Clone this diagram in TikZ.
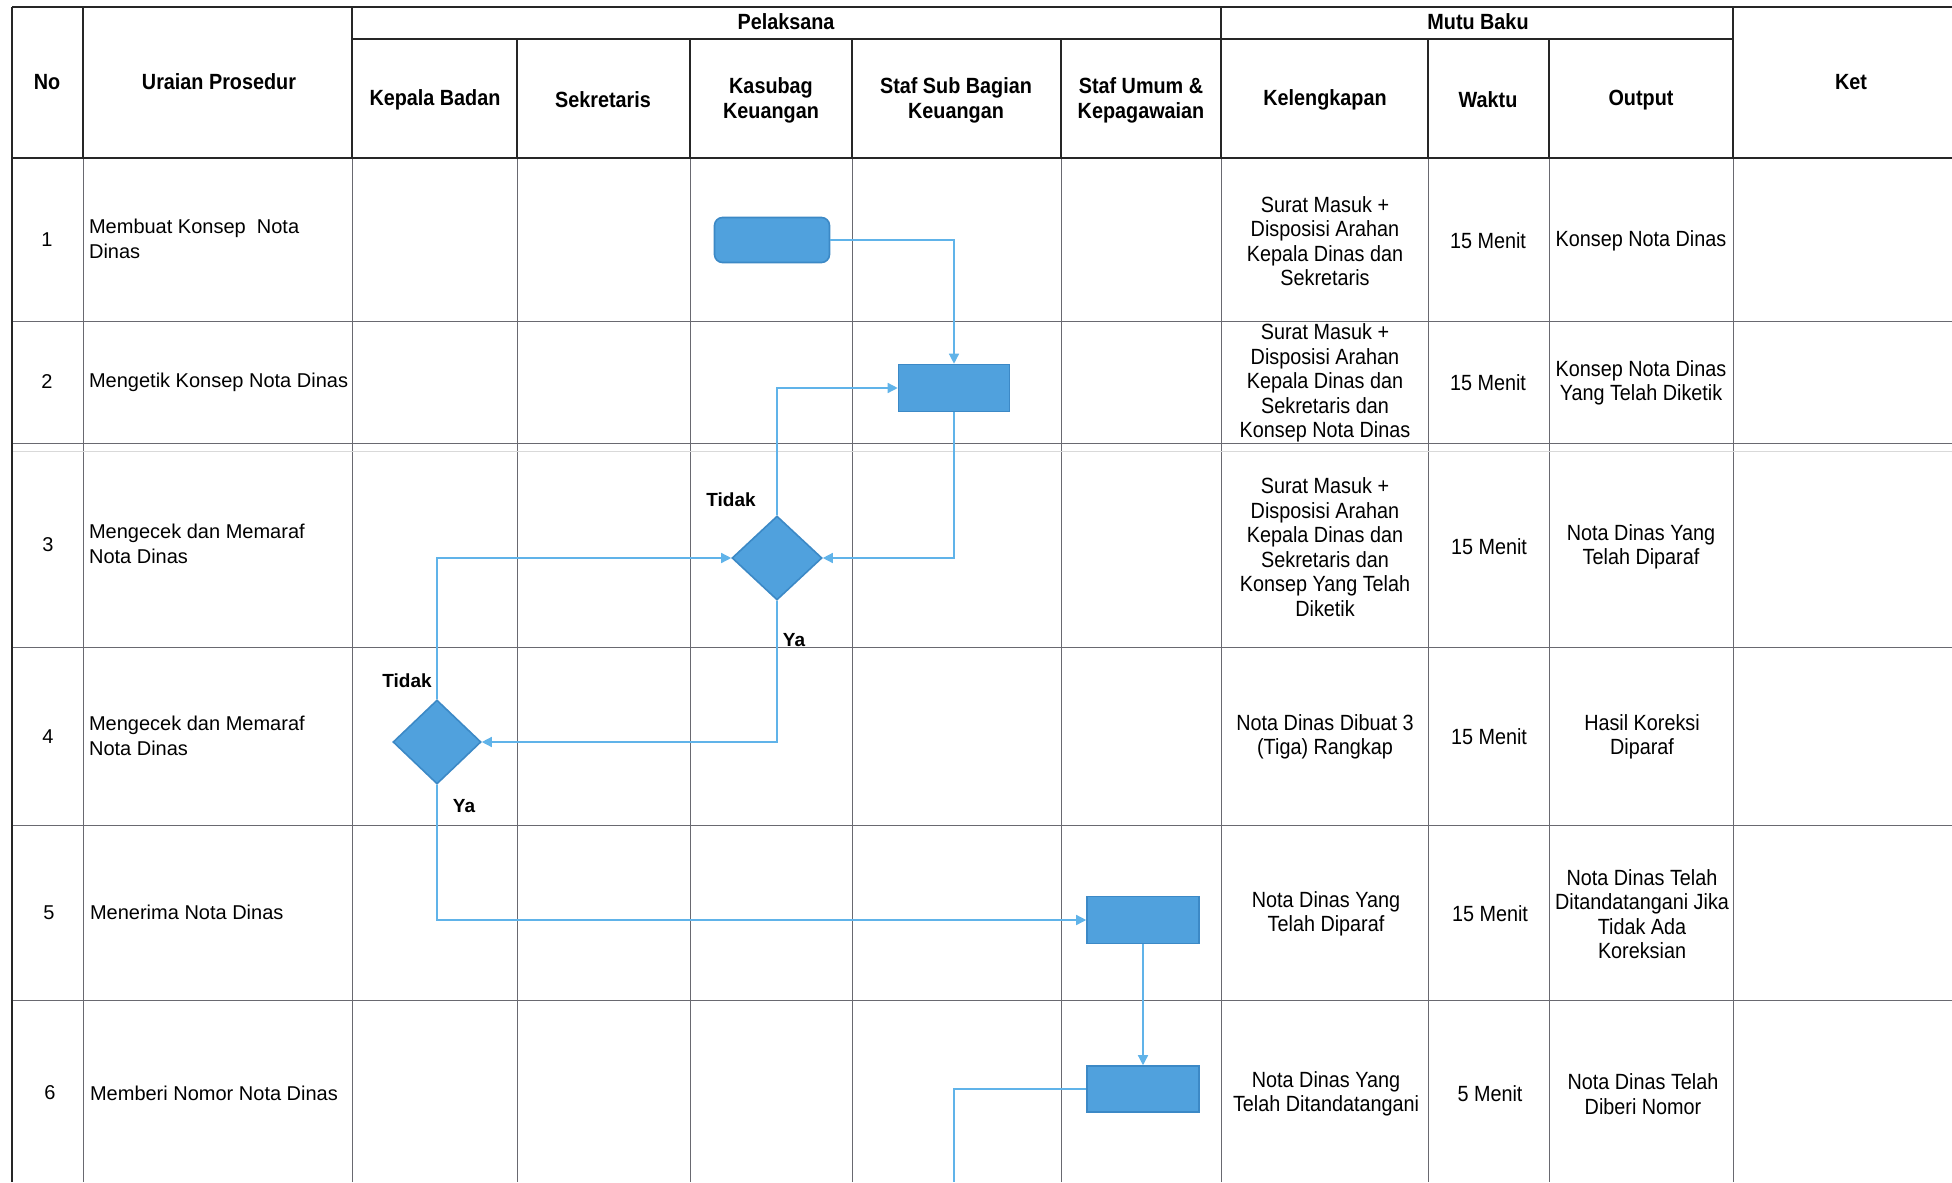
\documentclass[tikz,border=0pt]{standalone}
\usepackage{fontspec}
\setmainfont{Liberation Sans}
\newfontfamily\narrowfont[FakeStretch=0.9]{Liberation Sans}
\usetikzlibrary{shapes.geometric,arrows.meta}

\definecolor{boxblue}{RGB}{80,161,221}
\definecolor{boxedge}{RGB}{60,137,198}
\definecolor{flowblue}{RGB}{96,179,233}
\definecolor{gridgray}{RGB}{105,105,112}

\tikzset{
  hdrline/.style={line width=1.2pt, black!85},
  gridline/.style={line width=0.45pt, gridgray},
  flow/.style={line width=0.7pt, flowblue, -{Triangle[length=5pt,width=5pt]}},
  flowend/.style={line width=0.7pt, flowblue},
  procbox/.style={draw=boxedge, fill=boxblue, line width=0.8pt, minimum width=56pt, minimum height=23.5pt, inner sep=0pt},
  startbox/.style={procbox, rounded corners=4pt, minimum width=57.5pt, minimum height=22.5pt},
  decision/.style={diamond, draw=boxedge, fill=boxblue, line width=0.8pt, minimum width=45pt, minimum height=42pt, inner sep=0pt},
  hdr/.style={font=\narrowfont\bfseries\fontsize{11}{12.5}\selectfont, align=center},
  cell/.style={font=\narrowfont\fontsize{11}{12.25}\selectfont, align=center},
  urai/.style={font=\fontsize{10}{12.25}\selectfont, align=left, anchor=west},
  nomor/.style={font=\fontsize{10}{12}\selectfont},
  yatidak/.style={font=\bfseries\fontsize{9.5}{12}\selectfont}
}

\begin{document}
\begin{tikzpicture}[x=0.5pt, y=-0.5pt]
  \useasboundingbox (0,0) rectangle (1952,1182);
  \fill[white] (0,0) rectangle (1952,1182);

  % body grid
  \draw[gridline] (83,158) -- (83,1182) (352,158) -- (352,1182) (517,158) -- (517,1182)
    (690,158) -- (690,1182) (852,158) -- (852,1182) (1061,158) -- (1061,1182)
    (1221,158) -- (1221,1182) (1428,158) -- (1428,1182) (1549,158) -- (1549,1182)
    (1733,158) -- (1733,1182);
  \draw[gridline] (12,321) -- (1952,321) (12,443) -- (1952,443) (12,647) -- (1952,647)
    (12,825) -- (1952,825) (12,1000) -- (1952,1000);
  \draw[gridline, black!15] (12,451) -- (1952,451);

  % header lines
  \draw[hdrline] (12,7) -- (1952,7) (12,158) -- (1952,158) (12,7) -- (12,1182);
  \draw[hdrline] (83,7) -- (83,158) (352,7) -- (352,158) (1221,7) -- (1221,158) (1733,7) -- (1733,158);
  \draw[hdrline, line width=0.9pt] (352,39) -- (1733,39);
  \draw[hdrline, line width=0.9pt] (517,39) -- (517,158) (690,39) -- (690,158) (852,39) -- (852,158)
    (1061,39) -- (1061,158) (1428,39) -- (1428,158) (1549,39) -- (1549,158);

  % header text
  \node[hdr] (hno) at (47,82) {No};
  \node[hdr] (huraian) at (219,82) {Uraian Prosedur};
  \node[hdr] (hpelaksana) at (786,22) {Pelaksana};
  \node[hdr] (hmutu) at (1478,22) {Mutu Baku};
  \node[hdr] (hket) at (1851,82) {Ket};
  \node[hdr] (hkepala) at (435,100) {Kepala Badan};
  \node[hdr] (hsekretaris) at (603,100) {Sekretaris};
  \node[hdr] (hkasubag) at (771,100) {Kasubag\\Keuangan};
  \node[hdr] (hstafsub) at (956,100) {Staf Sub Bagian\\Keuangan};
  \node[hdr] (hstafumum) at (1141,100) {Staf Umum \&\\Kepagawaian};
  \node[hdr] (hlengkap) at (1325,100) {Kelengkapan};
  \node[hdr] (hwaktu) at (1488,100) {Waktu};
  \node[hdr] (houtput) at (1641,100) {Output};

  % nomor & uraian
  \node[nomor] (no1) at (47,240) {1};
  \node[nomor] (no2) at (47,382) {2};
  \node[nomor] (no3) at (48,545) {3};
  \node[nomor] (no4) at (48,737) {4};
  \node[nomor] (no5) at (49,913) {5};
  \node[nomor] (no6) at (50,1093) {6};
  \node[urai] (ur1) at (82,239) {Membuat Konsep\ \ Nota\\Dinas};
  \node[urai] (ur2) at (82,382) {Mengetik Konsep Nota Dinas};
  \node[urai] (ur3) at (82,544) {Mengecek dan Memaraf\\Nota Dinas};
  \node[urai] (ur4) at (82,736) {Mengecek dan Memaraf\\Nota Dinas};
  \node[urai] (ur5) at (83,912) {Menerima Nota Dinas};
  \node[urai] (ur6) at (83,1093) {Memberi Nomor Nota Dinas};

  % kelengkapan
  \node[cell] (lk1) at (1325,241) {Surat Masuk +\\Disposisi Arahan\\Kepala Dinas dan\\Sekretaris};
  \node[cell] (lk2) at (1325,383) {Surat Masuk +\\Disposisi Arahan\\Kepala Dinas dan\\Sekretaris dan\\Konsep Nota Dinas};
  \node[cell] (lk3) at (1325,547) {Surat Masuk +\\Disposisi Arahan\\Kepala Dinas dan\\Sekretaris dan\\Konsep Yang Telah\\Diketik};
  \node[cell] (lk4) at (1325,737) {Nota Dinas Dibuat 3\\(Tiga) Rangkap};
  \node[cell] (lk5) at (1326,914) {Nota Dinas Yang\\Telah Diparaf};
  \node[cell] (lk6) at (1326,1094) {Nota Dinas Yang\\Telah Ditandatangani};

  % waktu
  \node[cell] (wk1) at (1488,241) {15 Menit};
  \node[cell] (wk2) at (1488,383) {15 Menit};
  \node[cell] (wk3) at (1489,547) {15 Menit};
  \node[cell] (wk4) at (1489,737) {15 Menit};
  \node[cell] (wk5) at (1490,914) {15 Menit};
  \node[cell] (wk6) at (1490,1094) {5 Menit};

  % output
  \node[cell] (op1) at (1641,241) {Konsep Nota Dinas};
  \node[cell] (op2) at (1641,383) {Konsep Nota Dinas\\Yang Telah Diketik};
  \node[cell] (op3) at (1641,547) {Nota Dinas Yang\\Telah Diparaf};
  \node[cell] (op4) at (1642,737) {Hasil Koreksi\\Diparaf};
  \node[cell] (op5) at (1642,914) {Nota Dinas Telah\\Ditandatangani Jika\\Tidak Ada\\Koreksian};
  \node[cell] (op6) at (1643,1094) {Nota Dinas Telah\\Diberi Nomor};

  % flow shapes
  \node[startbox] (konsep) at (772,240) {};
  \node[procbox, minimum width=55.5pt] (ketik) at (954,388) {};
  \node[decision] (cek1) at (777,558) {};
  \node[decision, minimum width=44pt] (cek2) at (437,742) {};
  \node[procbox] (terima) at (1143,920) {};
  \node[procbox, minimum height=23pt] (beri) at (1143,1089) {};
  \coordinate (lanjut) at (954,1182);

  % connectors
  \draw[flow] (konsep.east) -| (ketik.north);
  \draw[flow] (ketik.south) |- (cek1.east);
  \draw[flow] (cek1.north) |- (ketik.west);
  \draw[flow] (cek1.south) |- (cek2.east);
  \draw[flow] (cek2.north) |- (cek1.west);
  \draw[flow] (cek2.south) |- (terima.west);
  \draw[flow] (terima.south) -- (beri.north);
  \draw[flowend] (beri.west) -| (lanjut);

  \node[yatidak] (tidak1) at (731,500) {Tidak};
  \node[yatidak] (ya1) at (794,640) {Ya};
  \node[yatidak] (tidak2) at (407,681) {Tidak};
  \node[yatidak] (ya2) at (464,806) {Ya};
\end{tikzpicture}
\end{document}
